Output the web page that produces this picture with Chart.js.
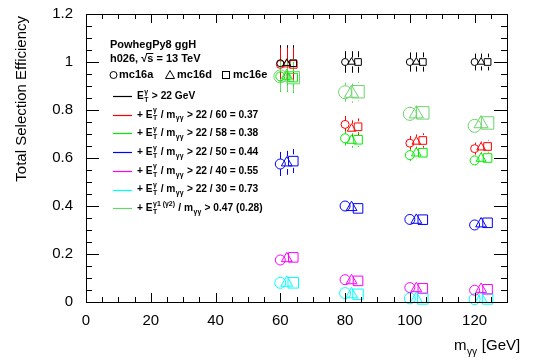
<!DOCTYPE html>
<html>
<head>
<meta charset="utf-8">
<script src="https://cdn.jsdelivr.net/npm/chart.js@4.4.0/dist/chart.umd.min.js"></script>
<style>
  html, body { margin: 0; padding: 0; background: #fff; }
  #wrap { width: 540px; height: 363px; }
</style>
</head>
<body>
<div id="wrap"><canvas id="effChart" width="540" height="363"></canvas></div>
<script>
// ---------------------------
// Data
// ---------------------------
const massPoints = [60, 80, 100, 120];
const campaigns = ["mc16a", "mc16d", "mc16e"];
const campaignShift = [0, 2, 4];          // mc16a / mc16d / mc16e drawn side by side
const xTickVals = [0, 20, 40, 60, 80, 100, 120];
const yTickVals = [0, 0.2, 0.4, 0.6, 0.8, 1, 1.2];
const yTickLabels = ["0", "0.2", "0.4", "0.6", "0.8", "1", "1.2"];

// one row per campaign, one value per mass point
const effPt22   = [[0.995, 1.0, 1.0, 1.0], [0.995, 1.0, 1.0, 1.0], [0.995, 1.0, 1.0, 1.0]];
const errPt22   = [[0.075, 0.045, 0.04, 0.035], [0.075, 0.045, 0.04, 0.035], [0.075, 0.045, 0.04, 0.035]];
const effRel37  = [[0.99, 0.74, 0.662, 0.639], [0.99, 0.722, 0.668, 0.644], [0.99, 0.73, 0.673, 0.648]];
const errRel37  = [[0.07, 0.035, 0.03, 0.025], [0.07, 0.035, 0.03, 0.025], [0.07, 0.035, 0.03, 0.025]];
const effRel38  = [[0.94, 0.682, 0.612, 0.59], [0.94, 0.673, 0.62, 0.598], [0.935, 0.676, 0.622, 0.6]];
const errRel38  = [[0.065, 0.03, 0.025, 0.02], [0.065, 0.03, 0.025, 0.02], [0.065, 0.03, 0.025, 0.02]];
const effRel44  = [[0.575, 0.40, 0.344, 0.321], [0.58, 0.394, 0.341, 0.326], [0.587, 0.39, 0.343, 0.33]];
const errRel44  = [[0.05, 0.015, 0.01, 0.01], [0.05, 0.015, 0.01, 0.01], [0.05, 0.015, 0.01, 0.01]];
const effRel55  = [[0.175, 0.093, 0.06, 0.049], [0.181, 0.089, 0.056, 0.053], [0.186, 0.088, 0.057, 0.053]];
const errRel55  = [[0.02, 0.01, 0.008, 0.008], [0.02, 0.01, 0.008, 0.008], [0.02, 0.01, 0.008, 0.008]];
const effRel73  = [[0.08, 0.037, 0.015, 0.012], [0.08, 0.032, 0.013, 0.013], [0.08, 0.032, 0.013, 0.013]];
const errRel73  = [[0.01, 0.008, 0.006, 0.006], [0.01, 0.008, 0.006, 0.006], [0.01, 0.008, 0.006, 0.006]];
const effAsym   = [[0.94, 0.874, 0.784, 0.734], [0.937, 0.87, 0.784, 0.743], [0.935, 0.876, 0.788, 0.746]];
const errAsym   = [[0.06, 0.04, 0.03, 0.025], [0.06, 0.04, 0.03, 0.025], [0.06, 0.04, 0.03, 0.025]];

// ---------------------------
// Series styling + legend text
// ---------------------------
const E_T = { sup: "\u03b3", sub: "T" };
const M_GG = { sub: "\u03b3\u03b3" };
const series = [
  { eff: effPt22,  err: errPt22,  color: "#000000", r: 3.5, label: ["E", E_T, " > 22 GeV"] },
  { eff: effRel37, err: errRel37, color: "#ff0000", r: 4,   label: ["+ E", E_T, " / m", M_GG, " > 22 / 60 = 0.37"] },
  { eff: effRel38, err: errRel38, color: "#00ee00", r: 4.5, label: ["+ E", E_T, " / m", M_GG, " > 22 / 58 = 0.38"] },
  { eff: effRel44, err: errRel44, color: "#0000ff", r: 5,   label: ["+ E", E_T, " / m", M_GG, " > 22 / 50 = 0.44"] },
  { eff: effRel55, err: errRel55, color: "#ff00ff", r: 5,   label: ["+ E", E_T, " / m", M_GG, " > 22 / 40 = 0.55"] },
  { eff: effRel73, err: errRel73, color: "#00ffff", r: 5.5, label: ["+ E", E_T, " / m", M_GG, " > 22 / 30 = 0.73"] },
  { eff: effAsym,  err: errAsym,  color: "#6cd46c", r: 6.5, label: ["+ E", { sup: "\u03b31 (\u03b32)", sub: "T" }, " / m", M_GG, " > 0.47 (0.28)"] }
];

const FONT = '"Liberation Sans", Arial, Helvetica, sans-serif';
const markerStyle = ["circle", "triangle", "rect"];
const markerScale = [1, 1.25, 1.35];

const datasets = [];
series.forEach(s => {
  campaigns.forEach((c, ci) => {
    datasets.push({
      label: c,
      data: massPoints.map((m, i) => ({ x: m + campaignShift[ci], y: s.eff[ci][i] })),
      errors: s.err[ci],
      pointStyle: markerStyle[ci],
      pointRadius: s.r * markerScale[ci],
      pointBorderWidth: 1,
      borderColor: s.color,
      backgroundColor: "rgba(0,0,0,0)",
      showLine: false,
      clip: false
    });
  });
});

function font(size, bold) {
  return (bold ? "bold " : "") + size + "px " + FONT;
}

// draws text with ROOT-like sub/superscripts, returns end x
function richText(ctx, x, y, parts, size, bold) {
  let cx = x;
  for (const p of parts) {
    if (typeof p === "string") {
      ctx.font = font(size, bold);
      ctx.fillText(p, cx, y);
      cx += ctx.measureText(p).width;
    } else {
      ctx.font = font(size * 0.68, bold);
      let w = 0;
      if (p.sup) { ctx.fillText(p.sup, cx + 0.5, y - size * 0.42); w = Math.max(w, ctx.measureText(p.sup).width); }
      if (p.sub) { ctx.fillText(p.sub, cx + 0.5, y + size * 0.38); w = Math.max(w, ctx.measureText(p.sub).width); }
      cx += w + 1;
    }
  }
  return cx;
}

// -----------------------
// Error bars (through the scales)
// -----------------------
const errorBars = {
  id: "errorBars",
  beforeDatasetsDraw(chart) {
    const ctx = chart.ctx;
    const ys = chart.scales.y;
    ctx.save();
    ctx.lineWidth = 1;
    chart.data.datasets.forEach((ds, di) => {
      const meta = chart.getDatasetMeta(di);
      ctx.strokeStyle = ds.borderColor;
      meta.data.forEach((pt, i) => {
        const v = ds.data[i].y;
        const e = ds.errors[i];
        const top = ys.getPixelForValue(v + e);
        const bot = ys.getPixelForValue(v - e);
        const gap = ds.pointRadius;
        const px = Math.round(pt.x) + 0.5;
        ctx.beginPath();
        if (pt.y - gap > top) { ctx.moveTo(px, top); ctx.lineTo(px, pt.y - gap); }
        if (pt.y + gap < bot) { ctx.moveTo(px, pt.y + gap); ctx.lineTo(px, bot); }
        ctx.stroke();
      });
    });
    ctx.restore();
  }
};

// -----------------------
// Frame, inward ticks, titles, legend block
// -----------------------
const frameAndText = {
  id: "frameAndText",
  afterDraw(chart) {
    const ctx = chart.ctx;
    const a = chart.chartArea;
    const xs = chart.scales.x, ys = chart.scales.y;
    ctx.save();
    ctx.strokeStyle = "#000";
    ctx.lineWidth = 1;
    ctx.strokeRect(Math.round(a.left) + 0.5, Math.round(a.top) + 0.5,
                   Math.round(a.right - a.left), Math.round(a.bottom - a.top));

    ctx.beginPath();
    for (let k = 0; k <= 26; k++) {
      const px = Math.round(xs.getPixelForValue(k * 5)) + 0.5;
      const len = k % 4 === 0 ? 9 : 5;
      ctx.moveTo(px, a.bottom); ctx.lineTo(px, a.bottom - len);
      ctx.moveTo(px, a.top); ctx.lineTo(px, a.top + len);
    }
    for (let k = 0; k <= 24; k++) {
      const py = Math.round(ys.getPixelForValue(k * 0.05)) + 0.5;
      const len = k % 4 === 0 ? 13 : 6;
      ctx.moveTo(a.left, py); ctx.lineTo(a.left + len, py);
      ctx.moveTo(a.right, py); ctx.lineTo(a.right - len, py);
    }
    ctx.stroke();

    // axis titles
    ctx.fillStyle = "#000";
    ctx.textBaseline = "middle";
    ctx.save();
    ctx.translate(22, a.top + 2);
    ctx.rotate(-Math.PI / 2);
    ctx.textAlign = "right";
    ctx.font = font(15, false);
    ctx.fillText("Total Selection Efficiency", 0, 0);
    ctx.restore();

    ctx.textAlign = "left";
    ctx.font = font(15, false);
    const xtW = ctx.measureText("m").width + 13 + ctx.measureText(" [GeV]").width;
    richText(ctx, 522 - xtW, 346, ["m", { sub: "\u03b3\u03b3" }, " [GeV]"], 15, false);

    // legend block
    const x0 = a.left + 24;
    ctx.font = font(11, true);
    ctx.fillText("PowhegPy8 ggH", x0, 45);
    const pre = "h026, \u221A";
    ctx.fillText(pre + "s = 13 TeV", x0, 59);
    const sx = x0 + ctx.measureText(pre).width;
    ctx.beginPath();
    ctx.moveTo(sx - 1, 53.5); ctx.lineTo(sx + ctx.measureText("s").width, 53.5);
    ctx.stroke();

    // campaign markers
    const my = 75;
    ctx.beginPath(); ctx.arc(x0 + 3.5, my, 3.5, 0, Math.PI * 2); ctx.stroke();
    ctx.fillText("mc16a", x0 + 9, my);
    ctx.beginPath();
    ctx.moveTo(x0 + 60, my - 4.5); ctx.lineTo(x0 + 64.5, my + 3.5); ctx.lineTo(x0 + 55.5, my + 3.5); ctx.closePath();
    ctx.stroke();
    ctx.fillText("mc16d", x0 + 67, my);
    ctx.strokeRect(x0 + 112.5, my - 3.5, 7, 7);
    ctx.fillText("mc16e", x0 + 123, my);

    series.forEach((s, i) => {
      const ry = 96 + i * 18.7;
      ctx.strokeStyle = s.color;
      ctx.lineWidth = 1.2;
      ctx.beginPath();
      ctx.moveTo(x0 + 3, Math.round(ry) + 0.5); ctx.lineTo(x0 + 22, Math.round(ry) + 0.5);
      ctx.stroke();
      ctx.fillStyle = "#000";
      richText(ctx, x0 + 27, ry, s.label, 10.2, true);
    });
    ctx.restore();
  }
};

// -----------------------
// Chart
// -----------------------
const ctx = document.getElementById("effChart").getContext("2d");
const effChart = new Chart(ctx, {
  type: "scatter",
  data: { datasets: datasets },
  options: {
    responsive: false,
    animation: false,
    events: [],
    layout: { padding: { left: 0, right: 33, top: 8, bottom: 0 } },
    plugins: { legend: { display: false }, tooltip: { enabled: false } },
    scales: {
      x: {
        type: "linear", min: 0, max: 130,
        afterBuildTicks: s => { s.ticks = xTickVals.map(v => ({ value: v })); },
        afterFit: s => { s.height = 61; },
        ticks: { color: "#000", font: { family: FONT, size: 15 }, padding: 2, maxRotation: 0 },
        grid: { display: false },
        border: { display: true, color: "#000" }
      },
      y: {
        type: "linear", min: 0, max: 1.2,
        afterBuildTicks: s => { s.ticks = yTickVals.map(v => ({ value: v })); },
        afterFit: s => { s.width = 86; },
        ticks: {
          color: "#000", font: { family: FONT, size: 15 }, padding: 5,
          callback: (v, i) => yTickLabels[i]
        },
        grid: { display: false },
        border: { display: true, color: "#000" }
      }
    }
  },
  plugins: [errorBars, frameAndText]
});
</script>
</body>
</html>
